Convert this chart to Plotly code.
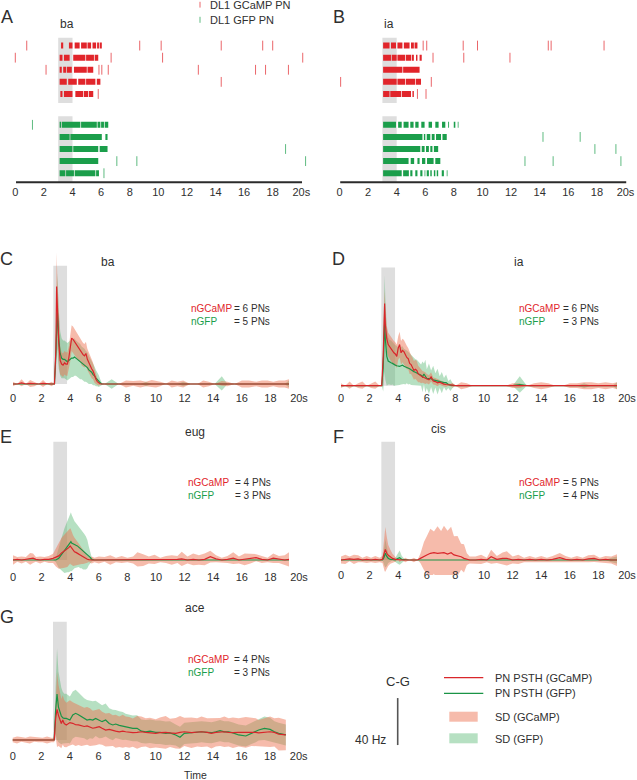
import plotly.graph_objects as go

# ---------------- data ----------------
TICK_VALS = [0, 2, 4, 6, 8, 10, 12, 14, 16, 18, 20]
TICK_TEXT = ["0", "2", "4", "6", "8", "10", "12", "14", "16", "18", "20s"]

STIM_RASTER = (3.0, 4.0)
STIM_PSTH = (2.82, 3.78)

# Raster A (ba)
A_GCAMP_BURSTS = [
    [(3.2, 3.35), (3.75, 4.0), (4.15, 4.5), (4.6, 5.0), (5.05, 5.3), (5.4, 5.65), (5.72, 5.85), (5.9, 6.05)],
    [(3.1, 3.3), (3.4, 3.8), (4.05, 4.9), (4.95, 5.5), (5.55, 5.8)],
    [(3.1, 3.25), (3.35, 3.55), (3.6, 3.95), (4.1, 5.0), (5.05, 5.45)],
    [(3.1, 3.6), (3.7, 4.3), (4.4, 4.9), (4.95, 5.6), (5.7, 5.95)],
    [(3.15, 3.3), (3.4, 4.0), (4.2, 4.75), (4.8, 5.1), (5.15, 5.45)],
]
A_GCAMP_SPIKES = [
    [0.8, 8.7, 10.2, 14.4, 17.3, 18.0],
    [0.0, 6.7, 10.3, 20.1],
    [2.15, 5.85, 6.05, 6.5, 12.8, 16.8, 17.5, 19.1],
    [14.4],
    [5.8],
]
A_GFP_BURSTS = [
    [(3.1, 3.2), (3.25, 4.55), (4.6, 5.7), (5.75, 5.95), (6.0, 6.2), (6.25, 6.5)],
    [(3.1, 3.8), (3.85, 6.05), (6.3, 6.45)],
    [(3.1, 4.0), (4.05, 5.8), (5.9, 6.45)],
    [(3.1, 5.8)],
    [(3.1, 3.5), (3.55, 4.1), (4.15, 5.6), (5.65, 5.85)],
]
A_GFP_SPIKES = [[1.2], [], [18.9], [7.1, 8.5, 20.3], [6.2]]

# Raster B (ia)
B_GCAMP_BURSTS = [
    [(3.05, 3.5), (3.6, 3.95), (4.05, 4.4), (4.5, 4.9), (5.0, 5.2), (5.25, 5.45)],
    [(3.05, 3.6), (3.65, 4.0), (4.05, 4.6), (4.65, 5.0), (5.05, 5.2), (5.35, 5.45), (5.6, 5.75)],
    [(3.05, 4.4), (4.45, 5.6)],
    [(3.05, 4.0), (4.05, 4.6), (4.65, 5.3), (5.35, 5.7)],
    [(3.05, 3.5), (3.55, 4.3), (4.35, 5.0), (5.1, 5.2)],
]
B_GCAMP_SPIKES = [
    [5.85, 6.1, 8.65, 9.65, 14.6, 14.8, 18.5],
    [6.54, 8.69, 11.92],
    [],
    [0.08, 6.42],
    [5.45, 6.05],
]
B_GFP_BURSTS = [
    [(3.05, 3.95), (4.1, 4.35), (4.48, 4.83), (4.95, 5.18), (5.3, 5.53), (5.72, 5.95), (6.23, 6.47),
     (6.7, 6.93), (7.17, 7.4), (7.6, 7.66), (7.99, 8.1), (8.27, 8.32)],
    [(3.05, 5.8), (5.9, 6.0), (6.1, 6.35), (6.45, 6.65), (6.75, 7.1), (7.2, 7.5)],
    [(3.05, 5.65), (5.75, 5.95), (6.05, 6.25), (6.35, 6.5), (6.6, 6.9)],
    [(3.05, 4.83), (4.98, 5.22), (5.45, 5.6), (5.77, 6.0), (6.12, 6.58), (6.7, 7.05)],
    [(3.05, 4.35), (4.45, 4.85), (4.95, 5.1), (5.3, 5.45), (5.65, 5.8), (5.95, 6.0), (6.1, 6.25),
     (6.35, 6.45), (6.6, 6.7), (6.8, 6.9), (7.15, 7.3), (7.5, 7.55)],
]
B_GFP_SPIKES = [[], [14.23, 16.83], [17.86, 19.33], [12.97, 14.94, 19.68], []]

# PSTH C (ba) -- Hz
T_C = [0, 0.3, 0.6, 0.9, 1.2, 1.5, 1.8, 2.1, 2.4, 2.7, 2.9,
       3.0, 3.05, 3.1, 3.2, 3.3, 3.4, 3.5, 3.6, 3.7, 3.8, 3.9, 4.0, 4.1, 4.2, 4.3, 4.4, 4.5, 4.6, 4.7, 4.8,
       4.9, 5.0, 5.1, 5.2, 5.3, 5.4, 5.5, 5.6, 5.7, 5.8, 5.9, 6.0, 6.1, 6.2, 6.4,
       6.9, 7.4, 7.9, 8.4, 8.9, 9.3, 9.7, 10.0, 10.3, 10.7, 11.1, 11.5, 11.9, 12.4, 12.9, 13.3, 13.7, 14.1,
       14.6, 15.0, 15.5, 16.0, 16.5, 17.0, 17.4, 17.8, 18.2, 18.6, 19.0, 19.3]
C_GCAMP = [0, 0, 1, 0, 0.5, 0, 0, 0.5, 0, 0, 0,
           30, 83, 66, 35, 20, 17, 16, 18, 17, 17, 22, 30, 39, 38, 36, 34, 32, 30, 29, 26,
           25, 24, 26, 21, 18, 15, 13, 11, 7, 4, 2, 0.5, 0, 0, 0,
           0, 0, 0, 0.5, 0, 0, 0.5, 0, 0, 0.5, 0, 0, 0, 0, 0, 0, 0, 0,
           0.5, 0, 0, 0, 0, 0, 0, 0, 0, 0, 0, 0]
C_GCAMP_SD = [2, 0, 3, 0, 3, 2, 0, 3, 0, 2, 0,
              15, 29, 25, 18, 12, 10, 10, 10, 10, 10, 10, 11, 11, 11, 11, 11, 11, 10, 10, 10,
              10, 10, 10, 9, 9, 8, 8, 7, 6, 4, 3, 2, 0, 0, 0,
              0, 0, 3, 2, 3, 2, 3, 3, 2, 0, 3, 2, 3, 0, 0, 3, 2, 0,
              2, 2, 0, 3, 3, 2, 3, 3, 2, 3, 3, 4]
C_GFP = [0, 0, 0, 0, 0, 0, 0, 0, 0, 0, 0,
         25, 55, 62, 38, 26, 22, 21, 21, 20, 19, 20, 21, 22, 22, 23, 22, 21, 20, 19, 18,
         17, 16, 15, 14, 12, 11, 10, 8, 7, 5, 4, 2.5, 1, 0, 0,
         0, 0, 0, 0, 0, 0, 0, 0, 0, 0, 0, 0, 0, 0, 0, 0, 0, 0,
         0.5, 0, 0, 0, 0, 0, 0, 0, 0, 0, 0, 0]
C_GFP_SD = [0, 0, 0, 0, 0, 0, 0, 0, 0, 0, 0,
            15, 30, 32, 25, 19, 17, 16, 16, 16, 16, 16, 16, 16, 16, 16, 15, 15, 15, 15, 14,
            14, 14, 13, 13, 12, 11, 10, 9, 8, 7, 6, 5, 3, 1, 0,
            4, 0, 0, 0, 0, 2, 0, 0, 0, 0, 0, 0, 2, 0, 0, 0, 0, 0,
            6, 0, 0, 0, 0, 0, 0, 0, 0, 0, 0, 3]

# PSTH D (ia)
T_D = [0, 0.3, 0.6, 0.9, 1.2, 1.5, 1.8, 2.1, 2.4, 2.7, 2.85,
       2.95, 3.0, 3.05, 3.1, 3.2, 3.3, 3.4, 3.5, 3.6, 3.7, 3.8, 3.9, 4.0, 4.1, 4.2, 4.3, 4.4, 4.5, 4.6,
       4.7, 4.8, 4.9, 5.0, 5.1, 5.2, 5.3, 5.4, 5.5, 5.6, 5.7, 5.8, 5.9, 6.0, 6.15, 6.3, 6.45, 6.6, 6.75,
       6.9, 7.05, 7.2, 7.35, 7.5, 7.65, 7.8, 8.0,
       8.4, 8.8, 9.2, 9.6, 10.0, 10.5, 11.0, 11.5, 12.0, 12.5, 13.0, 13.5, 14.0, 14.5, 15.0, 15.5, 16.0,
       16.5, 17.0, 17.5, 18.0, 18.5, 19.0, 19.3]
D_GCAMP = [0, 0, 0.5, 0, 0, 0.5, 0, 0, 0.5, 0, 0,
           25, 62, 70, 52, 40, 35, 33, 31, 29, 28, 27, 25, 32, 35, 28, 30, 29, 26, 24,
           23, 19, 18, 16, 13, 14, 13, 10, 9, 8, 7.5, 7, 6.5, 6, 5, 7.5, 4, 3.5, 2.5,
           3, 2, 1.4, 1, 1, 0.5, 0.5, 0,
           0, 0, 0, 0, 0, 0, 0, 0, 0, 0, 0, 0, 0, 0, 0, 0, 0,
           0, 0, 0, 0, 0, 0, 0]
D_GCAMP_SD = [2, 0, 3, 0, 2, 3, 0, 2, 3, 0, 0,
              10, 15, 12, 12, 11, 10, 10, 10, 10, 10, 10, 10, 10, 11, 10, 10, 10, 10, 10,
              9, 9, 8, 8, 8, 8, 8, 7, 6, 6, 5, 5, 5, 4, 4, 4, 3, 3, 3,
              2, 2, 2, 2, 1, 1, 2, 0,
              3, 2, 0, 0, 0, 0, 0, 0, 2, 2, 0, 2, 3, 2, 0, 0, 2,
              2, 3, 3, 2, 3, 2, 3]
D_GFP = [0, 0, 0, 0, 0, 0, 0, 0, 0, 0, 0,
         15, 40, 53, 40, 25, 21, 20, 19.5, 19, 18, 17.5, 17, 16.5, 16.5, 17, 17.5, 16.5, 16, 16,
         15, 14.5, 13.5, 12.5, 12, 11.5, 11, 10.5, 10, 9, 7.5, 10, 8, 6, 6, 6, 5, 4.5, 3.5,
         3, 2.6, 2.6, 2.6, 1, 0.5, 0, 0,
         0, 0, 0, 0, 0, 0, 0, 0, 0, 1, 0, 0, 0, 0, 0, 0, 0,
         0, 0, 0, 0, 0, 0, 0]
D_GFP_SD = [0, 0, 0, 0, 0, 0, 0, 0, 0, 0, 0,
            20, 35, 41, 35, 25, 20, 19, 19, 18, 18, 17, 17, 16, 16, 16, 16, 15, 15, 14,
            14, 13, 13, 12, 12, 11, 11, 10, 10, 9, 13, 9, 14, 8, 13, 7, 12, 6, 11,
            5, 9, 4, 7, 3, 5, 2, 0,
            0, 0, 0, 0, 0, 0, 0, 0, 0, 7, 0, 0, 0, 0, 0, 0, 0,
            0, 2, 0, 0, 0, 0, 3]

# PSTH E (eug)
T_E = [0, 0.3, 0.6, 0.9, 1.2, 1.4, 1.6, 1.9, 2.2, 2.5, 2.8,
       3.0, 3.2, 3.4, 3.6, 3.8, 3.9, 4.0, 4.05, 4.1, 4.2, 4.3, 4.4, 4.5, 4.6, 4.7, 4.8, 4.9, 5.0,
       5.1, 5.2, 5.3, 5.4, 5.5, 5.7,
       6.0, 6.4, 6.8, 7.2, 7.6, 8.0, 8.4, 8.7, 9.1, 9.5, 9.9, 10.3, 10.7, 11.1, 11.5, 11.8, 12.2, 12.6,
       13.0, 13.4, 13.8, 14.2, 14.6, 15.0, 15.4, 15.8, 16.2, 16.6, 17.0, 17.4, 17.8, 18.2, 18.6, 19.0, 19.3]
E_GCAMP = [0, 0.5, 0, 0.5, 1, 1.5, 0.5, 0, 0.5, 0.5, 1.4,
           2.5, 3.5, 6, 7.5, 9, 10.5, 12, 11, 10, 8, 7, 6.5, 6, 5, 4.3, 3.5, 2.5, 2,
           1, 0.6, 0.3, 0, 0, 0,
           0, 0.5, 0, 0, 0.5, 0, 0, 0.5, 0, 0, 0.5, 0, 0.5, 0, 0.5, 1, 0, 0.5,
           0, 0.5, 2.8, 1, 0, 0.5, 1.5, 0, 0.5, 1, 2, 0.5, 0, 1.5, 0.5, 0, 0.5]
E_GCAMP_SD = [4, 2, 3, 2, 5, 4, 2, 3, 2, 3, 4,
              8, 11, 13, 14, 15, 15, 15, 15, 14, 13, 12, 11, 10, 9, 8, 7, 6, 5,
              4, 3, 2, 2, 3, 2,
              3, 2, 4, 2, 3, 2, 3, 6, 5, 3, 4, 2, 3, 4, 3, 6, 3, 5,
              4, 5, 5, 3, 2, 3, 5, 3, 5, 4, 3, 3, 2, 4, 3, 4, 6]
E_GFP = [0, 0, 0, 0, 0, 0, 0, 0, 0, 0, 0,
         0, 1.5, 5, 8, 11.5, 13.5, 15, 15.6, 14.5, 13.6, 13, 12.5, 12, 11, 10, 9, 8, 7,
         6, 5, 3.5, 2.3, 0.5, 0,
         0, 0, 0, 0, 0, 0, 0, 0, 0, 0, 0, 0, 0, 0, 0, 0, 0, 0,
         0, 0, 0, 0, 0, 0, 0, 0, 0, 0, 0, 0, 0, 0, 0, 0, 0]
E_GFP_SD = [0, 0, 0, 0, 0, 0, 0, 0, 0, 0, 0,
            2, 8, 14, 19, 22, 24, 25, 25, 24, 22, 20, 19, 18, 17, 17, 16, 16, 15,
            14, 12, 8, 5, 2, 0,
            0, 0, 0, 0, 0, 0, 0, 0, 0, 0, 0, 0, 0, 0, 0, 0, 0, 0,
            0, 0, 0, 0, 0, 0, 0, 0, 0, 0, 0, 0, 0, 0, 0, 0, 0]

# PSTH F (cis)
T_F = [0, 0.3, 0.6, 0.9, 1.2, 1.5, 1.8, 2.1, 2.4, 2.7, 2.9,
       3.0, 3.05, 3.1, 3.2, 3.3, 3.45, 3.6, 3.8, 4.0, 4.1, 4.25, 4.5, 4.8, 5.1, 5.35,
       5.55, 5.8, 6.0, 6.25, 6.5, 6.75, 7.0, 7.2, 7.45, 7.7, 7.9, 8.15, 8.4, 8.6, 8.8, 9.0,
       9.4, 9.8, 10.2, 10.5, 10.9, 11.3, 11.6, 12.0, 12.4, 12.8, 13.2, 13.6, 14.0, 14.4, 14.8, 15.3,
       15.7, 16.1, 16.5, 16.9, 17.3, 17.7, 18.1, 18.5, 18.9, 19.3]
F_GCAMP = [0, 0.5, 1, 0.5, 1, 0, 0.5, 0, 0.5, 0, 0.5,
           5, 7.5, 9, 5.7, 4, 2.8, 1.4, 0.5, 0, 0, 0, 0, 0, 0, 0,
           1.4, 3.4, 4.3, 5.7, 6.2, 5.7, 5.7, 6.2, 5, 6.2, 4.3, 3.4, 2.8, 1.4, 0.7, 0,
           0, 0.5, 0, 2.8, 0.5, 1.4, 1.4, 0, 0.5, 0, 0.5, 0, 0.5, 0, 0.5, 2,
           0.5, 0, 0.5, 0, 1, 1.4, 0, 0.5, 0, 0]
F_GCAMP_SD = [3, 4, 2, 4, 3, 2, 3, 2, 3, 2, 3,
              12, 17, 19, 14, 9, 6, 4, 2, 0, 2, 0, 2, 0, 2, 0,
              4, 12, 16, 21, 18, 23, 19, 23, 20, 22, 16, 17, 11, 12, 5, 3,
              3, 4, 2, 6, 3, 5, 6, 3, 4, 2, 3, 2, 3, 2, 3, 4,
              3, 2, 3, 2, 3, 3, 2, 3, 3, 5]
F_GFP = [0, 0, 0, 0, 0, 0, 0, 0, 0, 0, 0,
         2, 5, 5.7, 3, 1.5, 0.5, 0, 0, 1.5, 2, 0.5, 0, 0, 0, 0,
         0, 0, 0, 0, 0, 0, 0, 0, 0, 0, 0, 0, 0, 0, 0, 0,
         0, 0, 0, 0, 0, 0, 0, 0, 0, 0, 0, 0, 0, 0, 0, 0,
         0, 0, 0, 0, 0, 0, 0, 0, 0, 0]
F_GFP_SD = [0, 0, 0, 0, 0, 0, 0, 0, 0, 0, 0,
            5, 10, 12, 8, 4, 2, 0, 2, 5, 6, 3, 0, 0, 0, 0,
            0, 0, 0, 0, 0, 0, 0, 0, 0, 0, 0, 0, 0, 0, 0, 0,
            0, 0, 0, 0, 0, 0, 0, 0, 0, 0, 0, 0, 0, 0, 0, 0,
            0, 0, 0, 0, 0, 0, 0, 0, 2, 3]

# PSTH G (ace)
T_G = [0, 0.3, 0.6, 0.9, 1.2, 1.5, 1.8, 2.1, 2.4, 2.7, 2.9,
       3.0, 3.1, 3.2, 3.3, 3.4, 3.5, 3.6, 3.75, 3.9, 4.0,
       4.2, 4.4, 4.6, 4.8, 5.0, 5.2, 5.4, 5.6, 5.8,
       6.05, 6.25, 6.5, 6.75, 7.0, 7.2, 7.45, 7.7, 7.9, 8.15, 8.4, 8.7, 9.0, 9.3, 9.6, 10.0,
       10.3, 10.7, 11.0, 11.4, 11.7, 12.0, 12.5, 12.9, 13.2, 13.6, 13.9, 14.2, 14.5, 14.8, 15.1, 15.4,
       15.8, 16.3, 16.7, 17.0, 17.2, 17.6, 18.0, 18.3, 18.6, 19.1]
G_GCAMP = [0, 0, 0.5, 0, 0, 0.5, 0, 0, 0, 0, 0,
           18, 26, 21, 17, 14, 17, 14, 12.8, 14, 14.8,
           14.2, 13, 12.8, 12, 11.5, 12, 11, 10, 10.5,
           11.3, 10, 8.5, 9, 8, 7.5, 7, 7.5, 7, 6.5, 6.2, 6.5, 7, 6.5, 6, 5.7,
           6.2, 6.5, 6, 5.7, 6.5, 7, 6.2, 6.5, 7, 6.5, 5.7, 6.5, 6.8, 7, 6.5, 6.2,
           6.5, 6.5, 7, 6.5, 6, 6.2, 7, 6.5, 5, 4.3]
G_GCAMP_SD = [2, 3, 2, 2, 3, 2, 2, 2, 3, 2, 2,
              15, 32, 26, 23, 21, 21, 20, 19, 19, 19,
              18, 18, 17, 17, 16, 16, 16, 15, 15,
              15, 14, 14, 14, 13, 14, 13, 14, 13, 13, 12, 14, 13, 12, 13, 12,
              13, 14, 12, 13, 14, 12, 13, 12, 13, 12, 13, 12, 12, 13, 12, 13,
              12, 13, 12, 12, 11, 12, 13, 12, 14, 13]
G_GFP = [0, 0, 0, 0, 0, 0, 0, 0, 0, 0, 0,
         25, 39, 28, 23, 20.4, 19, 18.4, 18.4, 17.5, 17,
         21.3, 22.7, 21.5, 19.9, 18.5, 17, 17.5, 17, 18.4,
         16.5, 15.6, 17, 14, 12.8, 13.6, 12.5, 11.9, 11.3, 10.5, 9.9, 10, 7.5, 7, 7.5, 6.5,
         6.5, 5.7, 6, 4.3, 2.3, 5.7, 6.2, 6.5, 7, 6.5, 6.2, 7, 8, 7, 7, 6,
         4.3, 3.4, 5.7, 7, 8.5, 9.9, 9, 7, 5.7, 4.3]
G_GFP_SD = [0, 0, 0, 0, 0, 0, 0, 0, 0, 0, 0,
            20, 39, 30, 26, 24, 22, 21, 21, 20, 20,
            20, 20, 19, 18, 17, 17, 16, 16, 15,
            15, 14, 14, 13, 13, 12, 12, 12, 11, 11, 11, 11, 10, 10, 10, 10,
            10, 10, 10, 9, 9, 9, 9, 9, 9, 9, 9, 9, 9, 9, 9, 9,
            9, 9, 9, 9, 9, 10, 10, 9, 9, 9]

PSTH_PANELS = [
    ("C", "ba", T_C, C_GCAMP, C_GCAMP_SD, C_GFP, C_GFP_SD, 6, 5),
    ("D", "ia", T_D, D_GCAMP, D_GCAMP_SD, D_GFP, D_GFP_SD, 6, 3),
    ("E", "eug", T_E, E_GCAMP, E_GCAMP_SD, E_GFP, E_GFP_SD, 4, 3),
    ("F", "cis", T_F, F_GCAMP, F_GCAMP_SD, F_GFP, F_GFP_SD, 5, 4),
    ("G", "ace", T_G, G_GCAMP, G_GCAMP_SD, G_GFP, G_GFP_SD, 4, 3),
]

for p in PSTH_PANELS:
    n = len(p[2])
    for arr in p[3:7]:
        if len(arr) != n:
            raise ValueError(f"length mismatch in panel {p[0]}: {len(arr)} vs {n}")

# ---------------- styling / layout ----------------
W, H = 637, 780
FONT = "Liberation Sans, Arial, Helvetica, sans-serif"
TXT = "#2f2f2f"
RED = "#e1252b"
GREEN = "#1b9e4b"
RED_SPIKE = "rgba(225,37,43,0.7)"
GREEN_SPIKE = "rgba(27,158,75,0.7)"
RED_LINE = "#d9262b"
GREEN_LINE = "#1a9446"
SD_RED = "rgba(236,112,80,0.48)"
SD_GREEN = "rgba(80,180,110,0.42)"
BOX = "#dedede"

PX_S = 14.3          # pixels per second
ROW_PX = 12.1        # pixels per raster row
HZ_PX = 1.175        # pixels per Hz
XR = [-0.4, 20.6]
LABEL_OFFSET = 9     # px between axis position and tick-label centre


def fx(p):
    return p / W


def fy(p):
    return 1 - p / H


def xdom(zero_px):
    return [fx(zero_px + XR[0] * PX_S), fx(zero_px + XR[1] * PX_S)]


fig = go.Figure()
layout = dict(
    width=W, height=H, margin=dict(l=0, r=0, t=0, b=0),
    paper_bgcolor="white", plot_bgcolor="rgba(0,0,0,0)",
    showlegend=False, font=dict(family=FONT, color=TXT, size=11),
)
shapes = []
annotations = []


def ann(text, x, y, size, color=TXT, xanchor="center"):
    annotations.append(dict(text=text, x=fx(x), y=fy(y), xref="paper", yref="paper",
                            showarrow=False, xanchor=xanchor, yanchor="middle",
                            font=dict(size=size, color=color, family=FONT)))


def xaxis_cfg(zero_px, label_px):
    return dict(domain=xdom(zero_px), range=XR, showgrid=False, zeroline=False,
                showline=False, ticks="", tickvals=TICK_VALS, ticktext=TICK_TEXT,
                tickfont=dict(size=11, color=TXT, family=FONT), ticklabeloverflow="allow",
                anchor="free", position=fy(label_px - LABEL_OFFSET))


# ---- raster panels ----
RASTERS = [
    ("A", "ba", 15.3, A_GCAMP_BURSTS, A_GCAMP_SPIKES, A_GFP_BURSTS, A_GFP_SPIKES),
    ("B", "ia", 339.5, B_GCAMP_BURSTS, B_GCAMP_SPIKES, B_GFP_BURSTS, B_GFP_SPIKES),
]
RASTER_AXIS_PX = 182.3
RED_TOP_ROW = 11.3
GREEN_TOP_ROW = 4.75

for i, (letter, odor, zero_px, rb, rs, gb, gs) in enumerate(RASTERS):
    k = i + 1
    xa = "x" if k == 1 else f"x{k}"
    ya = "y" if k == 1 else f"y{k}"
    layout["xaxis" if k == 1 else f"xaxis{k}"] = xaxis_cfg(zero_px, 193.3)
    layout["yaxis" if k == 1 else f"yaxis{k}"] = dict(
        domain=[fy(RASTER_AXIS_PX), fy(RASTER_AXIS_PX - 12 * ROW_PX)], range=[0, 12],
        visible=False, fixedrange=True)
    shapes.append(dict(type="rect", xref=xa, yref=ya, x0=STIM_RASTER[0], x1=STIM_RASTER[1],
                       y0=6.55, y1=11.95, fillcolor=BOX, line=dict(width=0), layer="below"))
    shapes.append(dict(type="rect", xref=xa, yref=ya, x0=STIM_RASTER[0], x1=STIM_RASTER[1],
                       y0=0.0, y1=5.45, fillcolor=BOX, line=dict(width=0), layer="below"))
    shapes.append(dict(type="line", xref=xa, yref="paper", x0=0.05, x1=20.05,
                       y0=fy(RASTER_AXIS_PX), y1=fy(RASTER_AXIS_PX),
                       line=dict(color="#2b2b2b", width=2)))
    for bursts, spikes, top, col, scol in ((rb, rs, RED_TOP_ROW, RED, RED_SPIKE),
                                           (gb, gs, GREEN_TOP_ROW, GREEN, GREEN_SPIKE)):
        bx, by, sx, sy = [], [], [], []
        for j, trial in enumerate(bursts):
            yv = top - j
            for s, e in trial:
                bx += [s, e, None]
                by += [yv, yv, None]
        for j, trial in enumerate(spikes):
            yv = top - j
            sx += trial
            sy += [yv] * len(trial)
        fig.add_trace(go.Scatter(x=bx, y=by, mode="lines", xaxis=xa, yaxis=ya,
                                 line=dict(color=col, width=6), hoverinfo="skip"))
        fig.add_trace(go.Scatter(x=sx, y=sy, mode="markers", xaxis=xa, yaxis=ya,
                                 marker=dict(symbol="line-ns", size=7, color=scol,
                                             line=dict(width=1, color=scol)),
                                 hoverinfo="skip"))
    lx = 6.7 if k == 1 else 338.5
    ann(letter, lx, 17.3, 18)
    ann(odor, 66.7 if k == 1 else 389, 24, 12)

# legend of raster
shapes.append(dict(type="line", xref="paper", yref="paper", x0=fx(200), x1=fx(200),
                   y0=fy(1.8), y1=fy(7.6), line=dict(color=RED_SPIKE, width=1)))
shapes.append(dict(type="line", xref="paper", yref="paper", x0=fx(200), x1=fx(200),
                   y0=fy(16.8), y1=fy(22.8), line=dict(color=GREEN_SPIKE, width=1)))
ann("DL1 GCaMP PN", 208.3, 4.8, 11, xanchor="left")
ann("DL1 GFP PN", 208.3, 20, 11, xanchor="left")

# ---- PSTH panels ----
PSTH_POS = {
    # letter: (zero_x_px, zero_y_px, label_y_px, letter_xy, title_xy, n_x_left, n_x_eq, n_y1, n_y2)
    "C": (13.0, 384.0, 399.0, (6.7, 259.3), (108, 262.3), 189.3, 232.3, 308.3, 321.0),
    "D": (341.0, 385.7, 399.0, (338.3, 259.3), (519, 262.3), 517.3, 560.7, 309.0, 321.0),
    "E": (13.0, 560.0, 578.0, (6.5, 436.7), (195, 431.7), 185.7, 233.3, 482.3, 496.0),
    "F": (341.0, 560.0, 576.0, (338.3, 436.7), (438.3, 429.3), 516.7, 560.7, 482.3, 496.0),
    "G": (12.7, 740.0, 757.0, (6.7, 616.7), (195, 608.3), 186.0, 232.3, 659.3, 672.3),
}
YR = [-12.8, 115.0]

for i, (letter, odor, t, rm, rsd, gm, gsd, n_r, n_g) in enumerate(PSTH_PANELS):
    k = i + 3
    xa, ya = f"x{k}", f"y{k}"
    zx, zy, ly, lxy, txy, nx1, nx2, ny1, ny2 = PSTH_POS[letter]
    layout[f"xaxis{k}"] = xaxis_cfg(zx, ly)
    layout[f"yaxis{k}"] = dict(domain=[fy(zy - YR[0] * HZ_PX), fy(zy - YR[1] * HZ_PX)],
                               range=YR, visible=False, fixedrange=True)
    shapes.append(dict(type="rect", xref=xa, yref=ya, x0=STIM_PSTH[0], x1=STIM_PSTH[1],
                       y0=0, y1=100.7, fillcolor=BOX, line=dict(width=0), layer="below"))
    for m, s, fc in ((gm, gsd, SD_GREEN), (rm, rsd, SD_RED)):
        up = [a + b for a, b in zip(m, s)]
        lo = [a - b for a, b in zip(m, s)]
        fig.add_trace(go.Scatter(x=list(t) + list(t)[::-1], y=up + lo[::-1], mode="lines",
                                 fill="toself", fillcolor=fc, line=dict(width=0),
                                 xaxis=xa, yaxis=ya, hoverinfo="skip"))
    fig.add_trace(go.Scatter(x=t, y=gm, mode="lines", line=dict(color=GREEN_LINE, width=1.2),
                             xaxis=xa, yaxis=ya, hoverinfo="skip"))
    fig.add_trace(go.Scatter(x=t, y=rm, mode="lines", line=dict(color=RED_LINE, width=1.2),
                             xaxis=xa, yaxis=ya, hoverinfo="skip"))
    ann(letter, lxy[0], lxy[1], 18)
    ann(odor, txy[0], txy[1], 12)
    ann("nGCaMP", nx1, ny1, 10, color=RED, xanchor="left")
    ann(f"= {n_r} PNs", nx2, ny1, 10, xanchor="left")
    ann("nGFP", nx1, ny2, 10, color=GREEN, xanchor="left")
    ann(f"= {n_g} PNs", nx2, ny2, 10, xanchor="left")

ann("Time", 195, 775, 10.5)

# ---- bottom legend and scale bar ----
SCALE_HZ = 40
ann("C-G", 398.3, 681, 13)
shapes.append(dict(type="line", xref="paper", yref="y7", x0=fx(397.7), x1=fx(397.7),
                   y0=-4.3, y1=-4.3 + SCALE_HZ, line=dict(color="#555555", width=1.6)))
ann(f"{SCALE_HZ} Hz", 388, 740, 12, xanchor="right")
shapes.append(dict(type="line", xref="paper", yref="paper", x0=fx(444), x1=fx(483.3),
                   y0=fy(677.7), y1=fy(677.7), line=dict(color=RED_LINE, width=1.2)))
shapes.append(dict(type="line", xref="paper", yref="paper", x0=fx(444), x1=fx(483.3),
                   y0=fy(693.3), y1=fy(693.3), line=dict(color=GREEN_LINE, width=1.2)))
shapes.append(dict(type="rect", xref="paper", yref="paper", x0=fx(449.3), x1=fx(477.7),
                   y0=fy(721.7), y1=fy(711.7), fillcolor=SD_RED, line=dict(width=0)))
shapes.append(dict(type="rect", xref="paper", yref="paper", x0=fx(449.3), x1=fx(477.7),
                   y0=fy(743.3), y1=fy(733.3), fillcolor=SD_GREEN, line=dict(width=0)))
ann("PN PSTH (GCaMP)", 493.3, 677.7, 11, xanchor="left")
ann("PN PSTH (GFP)", 493.3, 693.3, 11, xanchor="left")
ann("SD (GCaMP)", 493.3, 717.3, 11, xanchor="left")
ann("SD (GFP)", 493.3, 739.3, 11, xanchor="left")

layout["shapes"] = shapes
layout["annotations"] = annotations
fig.update_layout(**layout)
fig.write_html("out.html", config={"displayModeBar": False, "staticPlot": True},
               post_script="document.body.style.margin='0px';document.body.style.overflow='hidden';")
